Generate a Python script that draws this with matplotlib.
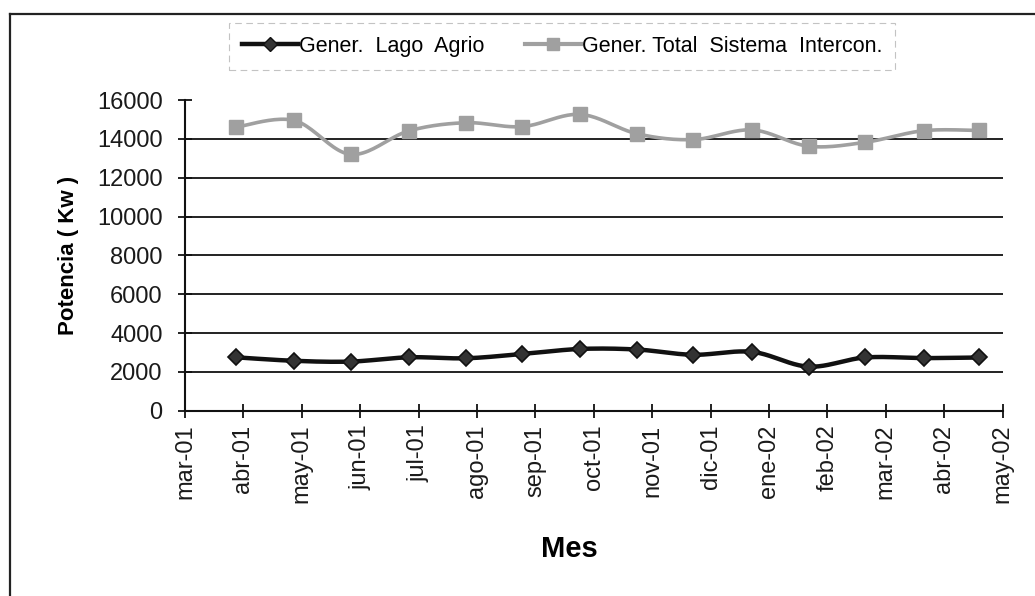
import numpy as np
import pandas as pd
import matplotlib
matplotlib.use("Agg")
import matplotlib.pyplot as plt
from matplotlib.lines import Line2D

plt.rcParams['font.family'] = ['Liberation Sans', 'DejaVu Sans']

# Reading dates and generated power (kW)
fechas = ["2001-03-28", "2001-04-27", "2001-05-27", "2001-06-26", "2001-07-26",
          "2001-08-25", "2001-09-24", "2001-10-24", "2001-11-22", "2001-12-23",
          "2002-01-22", "2002-02-19", "2002-03-21", "2002-04-19"]
lago_agrio = [2750, 2570, 2530, 2750, 2700, 2920, 3180, 3150, 2880, 3030,
              2270, 2740, 2710, 2740]
sistema_total = [14600, 14950, 13200, 14410, 14830, 14630, 15260, 14260, 13960,
                 14460, 13620, 13820, 14420, 14430]
meses = ["mar-01", "abr-01", "may-01", "jun-01", "jul-01", "ago-01", "sep-01",
         "oct-01", "nov-01", "dic-01", "ene-02", "feb-02", "mar-02", "abr-02",
         "may-02"]
y_ticks = [0, 2000, 4000, 6000, 8000, 10000, 12000, 14000, 16000]

nombre_lago = "Gener.  Lago  Agrio"
nombre_total = "Gener. Total  Sistema  Intercon."


def month_position(date_strings, start="2001-03-01"):
    """Fractional month index counted from the first month on the axis."""
    d = pd.to_datetime(pd.Series(date_strings))
    s = pd.Timestamp(start)
    whole = (d.dt.year - s.year) * 12 + (d.dt.month - s.month)
    return (whole + (d.dt.day - 1) / d.dt.days_in_month).to_numpy(float)


def smooth(x, y, n=24):
    """Excel-style smoothed line: cubic Bezier segments with Catmull-Rom tangents."""
    x = np.asarray(x, float)
    y = np.asarray(y, float)
    px = np.concatenate([[x[0]], x, [x[-1]]])
    py = np.concatenate([[y[0]], y, [y[-1]]])
    xs, ys = [], []
    t = np.linspace(0, 1, n)
    for i in range(len(x) - 1):
        p0 = np.array([px[i + 1], py[i + 1]])
        p3 = np.array([px[i + 2], py[i + 2]])
        c1 = p0 + (np.array([px[i + 2], py[i + 2]]) - np.array([px[i], py[i]])) / 6
        c2 = p3 - (np.array([px[i + 3], py[i + 3]]) - np.array([px[i + 1], py[i + 1]])) / 6
        b = ((1 - t) ** 3)[:, None] * p0 + (3 * (1 - t) ** 2 * t)[:, None] * c1 \
            + (3 * (1 - t) * t ** 2)[:, None] * c2 + (t ** 3)[:, None] * p3
        xs.append(b[:, 0])
        ys.append(b[:, 1])
    return np.concatenate(xs), np.concatenate(ys)


x = month_position(fechas)

fig = plt.figure(figsize=(10.35, 5.96), dpi=100)
ax = fig.add_axes([0.1787, 0.3109, 0.7901, 0.5213])

gris = "#a0a0a0"
negro = "#111111"

sx, sy = smooth(x, sistema_total)
ax.plot(sx, sy, color=gris, lw=2.6, zorder=3, solid_capstyle='round')
ax.plot(x, sistema_total, ls='none', marker='s', ms=10, color=gris,
        mec=gris, zorder=4)

lx, ly = smooth(x, lago_agrio)
ax.plot(lx, ly, color=negro, lw=3.2, zorder=5, solid_capstyle='round')
ax.plot(x, lago_agrio, ls='none', marker='D', ms=8.5, color="#333333",
        mec=negro, mew=1.2, zorder=6)

ax.set_xlim(0, len(meses) - 1)
ax.set_ylim(0, 16000)
ax.set_xticks(range(len(meses)))
ax.set_xticklabels(meses, rotation=90, fontsize=17, color="#1a1a1a")
ax.set_yticks(y_ticks)
ax.set_yticklabels([str(v) for v in y_ticks], fontsize=17, color="#1a1a1a")
ax.tick_params(axis='both', direction='inout', length=10, width=1.3,
               color="#111111")
ax.tick_params(axis='x', pad=5)
ax.tick_params(axis='y', pad=11)

for v in y_ticks[1:-1]:
    ax.axhline(v, color="#111111", lw=1.3, zorder=1)

for side in ("top", "right"):
    ax.spines[side].set_visible(False)
for side in ("left", "bottom"):
    ax.spines[side].set_linewidth(1.5)
    ax.spines[side].set_color("#111111")

ax.set_ylabel("Potencia ( Kw )", fontsize=16, fontweight='bold')
ax.yaxis.set_label_coords(-0.129, 0.5)
ax.set_xlabel("Mes", fontsize=21, fontweight='bold')
ax.xaxis.set_label_coords(0.4696, -0.40)

handles = [
    Line2D([], [], color=negro, lw=3.2, marker='D', ms=7, mfc="#333333", mec=negro),
    Line2D([], [], color=gris, lw=3, marker='s', ms=9, mfc=gris, mec=gris),
]
leg = fig.legend(handles, [nombre_lago, nombre_total], ncol=2,
                 loc='center', bbox_to_anchor=(0.5430, 0.922),
                 fontsize=15.5, frameon=True, fancybox=False,
                 handlelength=2.6, handletextpad=0.05, columnspacing=1.9,
                 borderpad=0.6, borderaxespad=0)
frame = leg.get_frame()
frame.set_edgecolor("#b5b5b5")
frame.set_linewidth(0.8)
frame.set_linestyle((0, (6, 4)))

# Outer chart frame (left and top edges)
fig.add_artist(Line2D([10 / 1035, 10 / 1035], [0, 1 - 14 / 596],
                      transform=fig.transFigure, color="#222222", lw=1.6))
fig.add_artist(Line2D([10 / 1035, 1], [1 - 14 / 596, 1 - 14 / 596],
                      transform=fig.transFigure, color="#222222", lw=1.6))

fig.savefig("out.png", dpi=100)
